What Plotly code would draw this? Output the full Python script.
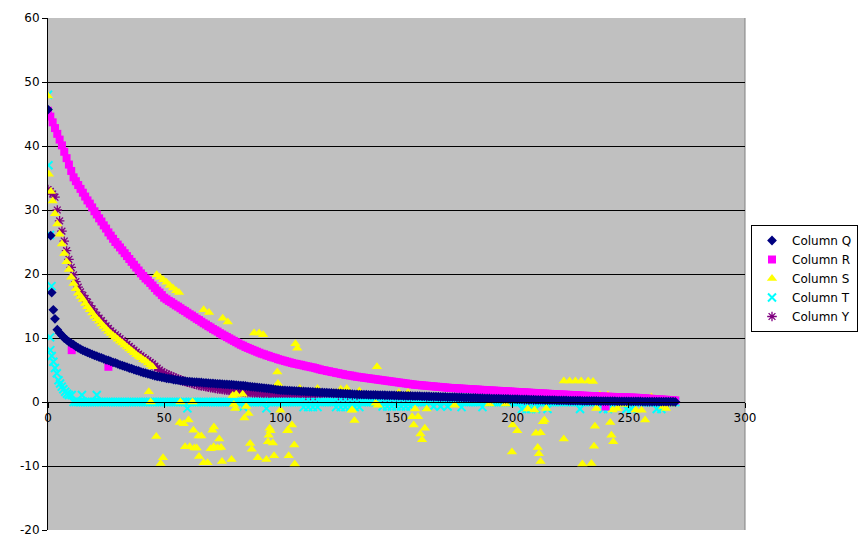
import plotly.graph_objects as go

# ---------------- data ----------------
# Column Q (navy diamonds)
Q_EARLY_X = [0, 1.15, 1.6, 2.3, 3.0]
Q_EARLY_Y = [45.7, 26.0, 17.1, 14.4, 13.0]
Q_START = 4
Q_CURVE = [
    11.3, 10.8, 10.4, 10.0, 9.7, 9.4,
    9.15, 8.95, 8.7, 8.45, 8.25, 8.05, 7.9, 7.75, 7.6, 7.45,
    7.3, 7.15, 7.0, 6.9, 6.75, 6.6, 6.5, 6.35, 6.2, 6.1,
    5.95, 5.8, 5.7, 5.55, 5.45, 5.3, 5.2, 5.05, 4.95, 4.85,
    4.7, 4.6, 4.5, 4.4, 4.3, 4.2, 4.1, 4.0, 3.95, 3.85,
    3.8, 3.7, 3.65, 3.6, 3.5, 3.45, 3.4, 3.35, 3.3, 3.25,
    3.2, 3.18, 3.15, 3.12, 3.1, 3.07, 3.05, 3.0, 2.98, 2.95,
    2.92, 2.9, 2.87, 2.85, 2.82, 2.8, 2.77, 2.75, 2.72, 2.7,
    2.67, 2.64, 2.6, 2.57, 2.54, 2.5, 2.45, 2.42, 2.38, 2.34,
    2.3, 2.26, 2.22, 2.18, 2.14, 2.1, 2.05, 2.0, 1.95, 1.9,
    1.85, 1.83, 1.81, 1.79, 1.77, 1.75, 1.73, 1.71, 1.69, 1.67,
    1.65, 1.63, 1.61, 1.59, 1.57, 1.55, 1.53, 1.51, 1.49, 1.47,
    1.45, 1.43, 1.41, 1.39, 1.37, 1.35, 1.33, 1.31, 1.29, 1.27,
    1.25, 1.23, 1.21, 1.19, 1.17, 1.16, 1.15, 1.14, 1.13, 1.12,
    1.11, 1.1, 1.09, 1.08, 1.07, 1.06, 1.05, 1.04, 1.03, 1.02,
    1.0, .99, .98, .97, .96, .95, .94, .93, .92, .91,
    .9, .89, .88, .87, .86, .85, .84, .83, .82, .81,
    .8, .79, .78, .77, .76, .75, .74, .72, .71, .7,
    .69, .67, .66, .64, .63, .62, .6, .59, .58, .56,
    .55, .54, .53, .52, .51, .5, .49, .48, .47, .46,
    .45, .44, .43, .42, .41, .4, .39, .38, .37, .36,
    .35, .34, .33, .32, .31, .3, .3, .29, .28, .27,
    .26, .25, .25, .24, .23, .22, .22, .21, .2, .2,
    .19, .18, .18, .17, .17, .16, .16, .15, .15, .14,
    .14, .13, .13, .12, .12, .11, .11, .1, .1, .1,
    .09, .09, .09, .08, .08, .08, .07, .07, .07, .06,
    .06, .06, .06, .05, .05, .05, .05, .04, .04, .04,
    .03,
]

# Column R (magenta squares)
R_START = 0
R_CURVE = [
    45.5, 44.6, 43.7, 42.8, 41.9, 41.0, 40.1, 39.1, 38.1, 37.1,
    36.1, 35.1, 34.5, 33.9, 33.3, 32.7, 32.1, 31.5, 31.0, 30.4,
    29.8, 29.3, 28.7, 28.2, 27.6, 27.1, 26.5, 26.0, 25.5, 25.0,
    24.6, 24.15, 23.7, 23.25, 22.8, 22.35, 21.9, 21.45, 21.0, 20.55,
    20.1, 19.7, 19.3, 19.0, 18.6, 18.2, 17.8, 17.4, 17.1, 16.7,
    16.3, 16.05, 15.8, 15.6, 15.35, 15.1, 14.9, 14.65, 14.4, 14.2,
    13.95, 13.7, 13.5, 13.25, 13.0, 12.8, 12.55, 12.3, 12.1, 11.85,
    11.65, 11.4, 11.2, 11.0, 10.75, 10.55, 10.35, 10.15, 9.95, 9.75,
    9.55, 9.35, 9.15, 8.95, 8.8, 8.6, 8.45, 8.3, 8.15, 8.0,
    7.85, 7.7, 7.55, 7.45, 7.3, 7.2, 7.05, 6.95, 6.85, 6.7,
    6.6, 6.5, 6.4, 6.3, 6.2, 6.1, 6.0, 5.95, 5.85, 5.8,
    5.7, 5.6, 5.55, 5.45, 5.4, 5.3, 5.2, 5.1, 5.0, 4.95,
    4.85, 4.8, 4.7, 4.65, 4.55, 4.5, 4.4, 4.35, 4.25, 4.2,
    4.15, 4.1, 4.0, 3.95, 3.9, 3.85, 3.8, 3.75, 3.7, 3.65,
    3.6, 3.55, 3.5, 3.45, 3.4, 3.35, 3.3, 3.25, 3.2, 3.15,
    3.1, 3.05, 3.0, 2.95, 2.9, 2.85, 2.8, 2.75, 2.7, 2.67,
    2.64, 2.6, 2.57, 2.54, 2.5, 2.47, 2.44, 2.4, 2.37, 2.34,
    2.3, 2.27, 2.24, 2.2, 2.18, 2.16, 2.14, 2.12, 2.09, 2.07,
    2.05, 2.03, 2.0, 1.98, 1.96, 1.94, 1.91, 1.89, 1.87, 1.85,
    1.82, 1.8, 1.78, 1.76, 1.74, 1.72, 1.7, 1.68, 1.66, 1.64,
    1.61, 1.59, 1.57, 1.55, 1.53, 1.51, 1.49, 1.46, 1.44, 1.42,
    1.4, 1.38, 1.36, 1.34, 1.32, 1.3, 1.27, 1.25, 1.23, 1.21,
    1.19, 1.18, 1.16, 1.14, 1.12, 1.1, 1.08, 1.06, 1.04, 1.02,
    1.0, .98, .96, .95, .93, .91, .9, .88, .87, .85,
    .84, .82, .81, .8, .78, .77, .76, .74, .73, .72,
    .71, .7, .68, .67, .64, .62, .59, .57, .54, .52,
    .49, .47, .44, .42, .4, .37, .35, .32, .3, .27,
    .25,
]
R_OUT_X = [10.2, 26.0, 240.0]
R_OUT_Y = [8.1, 5.5, -0.7]

# Column S (yellow triangles)
S_EARLY_X = [0, 0.4, 1.2]
S_EARLY_Y = [47.8, 35.6, 32.9]
S_START = 2
S_CURVE = [
    31.4, 29.4, 27.8, 26.2, 24.7, 23.2, 21.9, 20.7,
    19.5, 18.5, 17.7, 17.0, 16.5, 16.0, 15.4, 14.9, 14.4, 13.9,
    13.4, 13.0, 12.6, 12.2, 11.8, 11.4, 11.0, 10.7, 10.4, 10.1,
    9.8, 9.5, 9.2, 8.9, 8.6, 8.3, 8.0, 7.7, 7.4, 7.1,
    6.9, 6.6, 6.4, 6.1, 5.8, 5.5,
]
S_SCATTER_X = [
    46.8, 48.2, 49.6, 51.0, 52.4, 53.8, 55.2, 56.4, 67.0, 69.3, 75.2, 77.4,
    88.7, 90.9, 92.6, 106.5, 107.3, 141.6, 222.0, 224.5, 227.0, 229.5, 232.5, 234.6,
    43.4, 44.2, 57.0, 62.2, 79.5, 80.0, 81.0, 83.8, 85.3, 84.5, 86.3, 80.6,
    98.0, 98.7, 99.0, 100.0, 108.0, 108.4, 116.0, 123.0, 126.0, 128.6, 134.0,
    130.7, 131.9, 131.0, 142.0, 141.0, 151.0, 155.0, 158.0, 163.0, 175.0, 190.0,
    197.0, 206.5, 209.4, 214.4, 236.0, 237.5, 241.0, 243.0, 245.0, 247.6, 253.0,
    255.5, 257.0, 259.7, 261.0, 264.9, 266.0, 268.0,
    46.6, 48.5, 49.5, 56.7, 58.4, 60.5, 62.6, 59.0, 61.0, 63.0, 64.0, 64.8,
    66.0, 65.0, 67.0, 68.7, 70.8, 71.4, 70.0, 71.3, 73.7, 73.0, 74.5, 74.9,
    79.0, 87.0, 87.7, 90.3, 94.0, 95.0, 95.4, 95.8, 94.7, 96.8, 97.3, 103.0,
    103.3, 105.0, 106.0, 103.6, 106.2, 156.7, 157.4, 159.3, 160.3, 162.2, 161.0,
    199.7, 200.0, 202.0, 210.0, 212.0, 210.8, 211.3, 212.0, 213.0, 213.7, 222.0,
    230.0, 233.9, 235.4, 235.0, 242.0, 242.5, 243.3,
]
S_SCATTER_Y = [
    19.9, 19.5, 19.1, 18.7, 18.2, 17.8, 17.4, 17.1, 14.4, 14.0, 13.1, 12.5,
    10.8, 10.8, 10.5, 9.1, 8.4, 5.5, 3.3, 3.3, 3.3, 3.3, 3.3, 3.2,
    1.6, 0.0, 0.0, 0.0, 1.0, -0.4, 1.2, 1.2, -0.7, -2.5, -1.8, -1.0,
    2.4, 4.7, 2.9, -1.3, 1.8, 2.1, 2.1, 1.5, 2.0, 2.1, 1.7,
    -1.3, -2.9, -1.25, -0.5, -0.2, 1.5, 1.5, -1.1, -1.1, -0.5, -0.3,
    -0.3, -1.1, -1.25, -1.0, -1.0, 1.1, 1.1, -1.25, -1.0, -0.4, -1.25,
    -1.3, -2.8, 0.8, 0.3, -0.7, -1.0, -0.3,
    -5.4, -9.6, -8.7, -3.2, -3.4, -2.8, -4.4, -7.0, -7.0, -7.2, -7.2, -5.3,
    -5.3, -8.5, -9.5, -9.5, -4.4, -3.9, -7.3, -7.0, -5.8, -7.2, -7.1, -9.3,
    -9.0, -6.5, -7.4, -8.7, -9.0, -5.2, -4.1, -4.5, -6.2, -6.4, -8.4, -4.5,
    -4.4, -3.6, -6.7, -8.4, -9.7, -2.3, -3.6, -2.3, -5.0, -4.1, -5.9,
    -7.8, -3.6, -4.5, -4.9, -4.8, -7.1, -8.1, -9.3, -3.1, -2.8, -5.8,
    -9.7, -9.6, -3.8, -6.9, -3.2, -5.2, -6.2,
]

# Column T (cyan crosses)
T_EARLY_X = [0, 0.2, 0.9, 1.5, 0.9, 1.0, 1.6, 2.3, 3.0, 3.8, 4.5, 5.2, 5.9, 6.6,
             7.4, 8.2, 9.0, 10.2, 14.6, 21.0]
T_EARLY_Y = [48.0, 37.0, 26.1, 18.1, 10.1, 8.1, 7.2, 6.3, 5.3, 4.5, 3.4, 2.9, 2.4, 2.0,
             1.6, 1.3, 1.1, 1.1, 1.1, 1.1]
T_START = 11
T_FLAT = [
    0, 0, 0, 0, 0, 0, 0, 0, 0, 0,
    0, 0, 0, 0, 0, 0, 0, 0, 0, 0,
    0, 0, 0, 0, 0, 0, 0, 0, 0, 0,
    0, 0, 0, 0, 0, 0, 0, 0, 0, 0,
    0, 0, 0, 0, 0, 0, 0, 0, 0, -1.0,
    0, 0, 0, 0, 0, 0, 0, 0, 0, 0,
    0, 0, 0, 0, 0, 0, 0, 0, 0, 0,
    0, 0, 0, -0.8, 0, 0, 0, 0, 0, 0,
    0, 0, 0, -1.0, 0, 0, 0, 0, 0, 0,
    0, 0, 0, 0, 0, 0, 0, 0, 0, -0.8,
    0, -0.8, 0, -0.8, 0, -0.8, 0, 0, 0, 0,
    0, 0, 0, -0.8, 0, -0.8, 0, -0.8, 0, -0.8,
    0, -0.8, 0, -0.8, 0, 0, 0, 0, 0, 0,
    0, 0, 0, -0.7, 0, -0.7, 0, -0.7, 0, -0.7,
    0, -0.7, 0, -0.7, 0, -0.7, 0, 0, 0, 0,
    0, 0, -0.7, 0, 0, -0.7, 0, 0, -0.7, 0,
    0, -0.7, 0, 0, 0, 0, 0, -0.8, 0, 0,
    0, 0, 0, 0, 0, 0, -0.8, 0, 0, 0,
    0, 0, 0, 0, 0, 0, 0, 0, 0, 0,
    0, 0, 0, -1.1, 0, -1.1, 0, -1.1, 0, -1.1,
    0, 0, 0, 0, -1.1, 0, 0, 0, 0, 0,
    0, 0, 0, 0, 0, 0, 0, 0, -1.1, 0,
    0, 0, 0, 0, 0, 0, 0, 0, -1.1, 0,
    -1.1, 0, 0, 0, 0, 0, 0, 0, -1.1, 0,
    -1.1, 0, 0, 0, 0, 0, 0, 0, 0, 0,
    0, -1.1, 0, -1.1, 0, 0, 0, 0, 0, 0,
]

# Column Y (purple asterisks)
Y_START = 0
Y_CURVE = [
    33.2, 32.9, 32.5, 32.0, 30.0, 28.3, 26.7, 25.15, 23.65, 22.3,
    21.05, 19.85, 18.8, 17.95, 17.2, 16.65, 16.15, 15.6, 15.05, 14.55,
    14.05, 13.55, 13.1, 12.7, 12.3, 11.9, 11.5, 11.1, 10.8, 10.5,
    10.2, 9.9, 9.6, 9.3, 9.0, 8.7, 8.4, 8.1, 7.8, 7.5,
    7.2, 6.95, 6.7, 6.45, 6.2, 5.95, 5.6, 5.3, 5.0, 4.75,
    4.5, 4.35, 4.2, 4.05, 3.9, 3.75, 3.6, 3.45, 3.3, 3.2,
    3.1, 3.0, 2.9, 2.8, 2.7, 2.6, 2.5, 2.45, 2.4, 2.3,
    2.25, 2.2, 2.1, 2.05, 2.0, 1.95, 1.9, 1.85, 1.8, 1.75,
    1.7, 1.66, 1.62, 1.58, 1.54, 1.5, 1.47, 1.44, 1.41, 1.38,
    1.35, 1.32, 1.29, 1.26, 1.23, 1.2, 1.17, 1.14, 1.11, 1.08,
    1.05, 1.03, 1.01, .99, .97, .95, .93, .91, .89, .87,
    .85, .84, .82, .81, .8, .78, .77, .76, .74, .73,
    .72, .71, .7, .68, .67, .66, .65, .64, .63, .62,
    .61, .6, .59, .58, .57, .56, .55, .55, .54, .53,
    .52, .51, .5, .5, .49, .48, .47, .47, .46, .45,
    .45, .44, .43, .43, .42, .41, .41, .4, .4, .39,
    .38, .38, .37, .37, .36, .36, .35, .35, .34, .34,
    .33, .33, .32, .32, .31, .31, .3, .3, .29, .29,
    .28, .28, .28, .27, .27, .26, .26, .26, .25, .25,
    .24, .24, .24, .23, .23, .23, .22, .22, .22, .21,
    .21, .21, .2, .2, .2, .19, .19, .19, .18, .18,
    .18, .17, .17, .17, .17, .16, .16, .16, .15, .15,
    .15, .15, .14, .14, .14, .14, .13, .13, .13, .13,
    .12, .12, .12, .12, .11, .11, .11, .11, .1, .1,
    .1, .1, .1, .09, .09, .09, .09, .09, .08, .08,
    .08, .08, .08, .07, .07, .07, .07, .07, .06, .06,
    .06, .06, .06, .05, .05, .05, .05, .05, .04, .04,
    .04,
]

NAMES = ["Column Q", "Column R", "Column S", "Column T", "Column Y"]
X_TICKS = [0, 50, 100, 150, 200, 250, 300]
Y_TICKS = [-20, -10, 0, 10, 20, 30, 40, 50, 60]

# ---------------- assemble series ----------------
q_x = Q_EARLY_X + list(range(Q_START, Q_START + len(Q_CURVE)))
q_y = Q_EARLY_Y + Q_CURVE
r_x = list(range(R_START, R_START + len(R_CURVE))) + R_OUT_X
r_y = R_CURVE + R_OUT_Y
s_x = S_EARLY_X + list(range(S_START, S_START + len(S_CURVE))) + S_SCATTER_X
s_y = S_EARLY_Y + S_CURVE + S_SCATTER_Y
t_x = T_EARLY_X + list(range(T_START, T_START + len(T_FLAT)))
t_y = T_EARLY_Y + T_FLAT
y_x = list(range(Y_START, Y_START + len(Y_CURVE)))
y_y = Y_CURVE

FONT = "DejaVu Sans, Verdana, sans-serif"

fig = go.Figure()
# drawn bottom-to-top: Y, T, S, R, Q (Q on top)
fig.add_trace(go.Scatter(
    x=y_x, y=y_y, mode="markers", name=NAMES[4],
    marker=dict(symbol="asterisk-open", size=8, color="#800080",
                line=dict(color="#800080", width=1.3))))
fig.add_trace(go.Scatter(
    x=t_x, y=t_y, mode="markers", name=NAMES[3],
    marker=dict(symbol="x-thin-open", size=8, color="#00FFFF",
                line=dict(color="#00FFFF", width=2))))
fig.add_trace(go.Scatter(
    x=s_x, y=s_y, mode="markers", name=NAMES[2],
    marker=dict(symbol="triangle-up", size=9, color="#FFFF00",
                line=dict(width=0))))
fig.add_trace(go.Scatter(
    x=r_x, y=r_y, mode="markers", name=NAMES[1],
    marker=dict(symbol="square", size=8, color="#FF00FF",
                line=dict(width=0))))
fig.add_trace(go.Scatter(
    x=q_x, y=q_y, mode="markers", name=NAMES[0],
    marker=dict(symbol="diamond", size=7.5, color="#000080",
                line=dict(width=0))))

# page body adds an 8px offset; figure sized so the plot area lands at
# x 48..745, y 18..530 of the window
W, H = 851, 532
L, R, T, B = 40, 114, 10, 10
PW, PH = W - L - R, H - T - B
fig.update_layout(
    width=W, height=H,
    margin=dict(l=L, r=R, t=T, b=B, autoexpand=False),
    paper_bgcolor="white",
    plot_bgcolor="#C0C0C0",
    font=dict(family=FONT, size=12, color="black"),
    showlegend=True,
    legend=dict(
        traceorder="reversed",
        x=(850 - L) / PW, xanchor="right",
        y=(H - B - 217) / PH, yanchor="top",
        bgcolor="white", bordercolor="black", borderwidth=1,
        font=dict(family=FONT, size=12, color="black"),
        itemwidth=30, tracegroupgap=0,
    ),
    xaxis=dict(
        range=[0, 300], tickmode="array", tickvals=X_TICKS,
        ticktext=[str(v) for v in X_TICKS],
        showgrid=False, zeroline=False,
        showline=True, linecolor="black", linewidth=1,
        ticks="outside", ticklen=5, tickcolor="black",
        anchor="free", position=(0 - (-20)) / 80.0,
        tickfont=dict(family=FONT, size=12),
    ),
    yaxis=dict(
        range=[-20, 60], tickmode="array", tickvals=Y_TICKS,
        ticktext=[str(v) for v in Y_TICKS],
        showgrid=True, gridcolor="black", gridwidth=1,
        zeroline=False,
        showline=True, linecolor="black", linewidth=1,
        ticks="outside", ticklen=5, tickcolor="black",
        tickfont=dict(family=FONT, size=12),
    ),
    shapes=[dict(type="line", xref="paper", yref="paper",
                 x0=1, x1=1, y0=0, y1=1,
                 line=dict(color="#808080", width=1), layer="below")],
)

fig.write_html("out.html")
